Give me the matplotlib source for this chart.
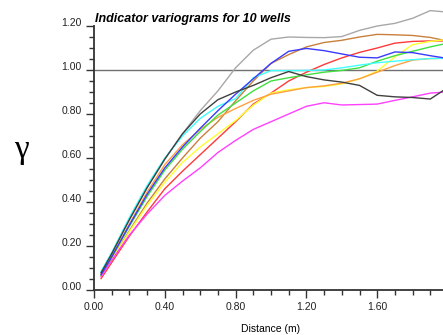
import matplotlib
matplotlib.use("Agg")
import matplotlib.pyplot as plt
from matplotlib.ticker import MultipleLocator, FixedLocator, FormatStrFormatter

# lag distances (m)
lags = [0.04, 0.1, 0.2, 0.3, 0.4, 0.5, 0.6, 0.7, 0.8, 0.9, 1.0,
        1.1, 1.2, 1.3, 1.4, 1.5, 1.6, 1.7, 1.8, 1.9, 1.97]

# indicator variogram values, one list per well
gray = [0.08, 0.165, 0.32, 0.465, 0.595, 0.71, 0.815, 0.905, 1.01, 1.09, 1.14,
        1.15, 1.148, 1.147, 1.152, 1.18, 1.20, 1.212, 1.235, 1.27, 1.265]
black = [0.078, 0.165, 0.32, 0.465, 0.595, 0.71, 0.80, 0.865, 0.90, 0.93, 0.965,
         0.993, 0.97, 0.955, 0.945, 0.93, 0.885, 0.878, 0.875, 0.868, 0.905]
cyan = [0.085, 0.17, 0.33, 0.475, 0.60, 0.70, 0.78, 0.835, 0.87, 0.965, 0.997,
        0.997, 0.998, 1.0, 1.01, 1.022, 1.033, 1.04, 1.047, 1.052, 1.053]
orange = [0.072, 0.155, 0.30, 0.445, 0.57, 0.66, 0.73, 0.785, 0.825, 0.862, 0.89,
          0.905, 0.92, 0.928, 0.94, 0.96, 0.99, 1.02, 1.045, 1.052, 1.053]
blue = [0.07, 0.15, 0.295, 0.435, 0.555, 0.65, 0.735, 0.815, 0.89, 0.96, 1.03,
        1.085, 1.098, 1.088, 1.073, 1.058, 1.055, 1.082, 1.079, 1.065, 1.056]
green = [0.068, 0.15, 0.29, 0.425, 0.545, 0.64, 0.72, 0.795, 0.85, 0.905, 0.95,
         0.965, 0.978, 0.99, 0.998, 1.01, 1.04, 1.065, 1.085, 1.105, 1.117]
brown = [0.065, 0.14, 0.27, 0.395, 0.505, 0.60, 0.69, 0.765, 0.86, 0.95, 1.03,
         1.07, 1.105, 1.125, 1.135, 1.15, 1.162, 1.16, 1.157, 1.148, 1.136]
yellow = [0.062, 0.14, 0.265, 0.385, 0.49, 0.58, 0.65, 0.71, 0.77, 0.84, 0.895,
          0.91, 0.92, 0.925, 0.937, 0.96, 0.995, 1.06, 1.115, 1.13, 1.136]
red = [0.052, 0.125, 0.245, 0.355, 0.46, 0.54, 0.615, 0.69, 0.765, 0.845, 0.895,
       0.95, 0.99, 1.025, 1.055, 1.08, 1.10, 1.122, 1.13, 1.132, 1.132]
magenta = [0.06, 0.135, 0.25, 0.345, 0.43, 0.495, 0.555, 0.625, 0.68, 0.73, 0.765,
           0.80, 0.835, 0.851, 0.841, 0.843, 0.845, 0.862, 0.878, 0.895, 0.899]

series = [
    (gray, "#a8a8a8"),
    (brown, "#c8803c"),
    (red, "#ff3a3a"),
    (yellow, "#ffff30"),
    (orange, "#ffa040"),
    (green, "#40e040"),
    (cyan, "#40ffff"),
    (magenta, "#ff40ff"),
    (blue, "#3a3aff"),
    (black, "#404040"),
]

xticks = [0.0, 0.4, 0.8, 1.2, 1.6]

plt.rcParams["font.family"] = ["Liberation Sans", "DejaVu Sans"]

fig = plt.figure(figsize=(4.43, 3.35), dpi=100)
ax = fig.add_axes([94 / 443, 45 / 335, 354 / 443, 264 / 335])

ax.axhline(1.0, color="#707070", lw=1.0, zorder=1)
for vals, col in series:
    ax.plot(lags, vals, color=col, lw=1.0, clip_on=False, zorder=2)

ax.set_xlim(0, 2.0)
ax.set_ylim(0, 1.2)
ax.xaxis.set_major_locator(FixedLocator(xticks))
ax.xaxis.set_minor_locator(MultipleLocator(0.1))
ax.yaxis.set_major_locator(MultipleLocator(0.2))
ax.yaxis.set_minor_locator(MultipleLocator(0.05))
ax.xaxis.set_major_formatter(FormatStrFormatter("%.2f"))
ax.yaxis.set_major_formatter(FormatStrFormatter("%.2f"))

for s in ["top", "right"]:
    ax.spines[s].set_visible(False)
for s in ["left", "bottom"]:
    ax.spines[s].set_color("#333333")
    ax.spines[s].set_linewidth(1.3)

ax.tick_params(which="major", length=6, width=1, color="#333333",
               labelsize=7.5, labelcolor="#222222", pad=3)
ax.tick_params(which="minor", length=3.5, width=1, color="#333333")
for t in ax.get_yticklabels():
    t.set_verticalalignment("baseline")

ax.text(0.003, 1.003, "Indicator variograms for 10 wells", transform=ax.transAxes,
        fontsize=9, fontweight="bold", fontstyle="italic", ha="left", va="bottom")
ax.set_xlabel("Distance (m)", fontsize=7.5, labelpad=8)
fig.text(21 / 443, 0.553, "γ", fontsize=24, family=["Liberation Serif", "DejaVu Serif"],
         ha="center", va="center")

fig.savefig("out.png", dpi=100)
